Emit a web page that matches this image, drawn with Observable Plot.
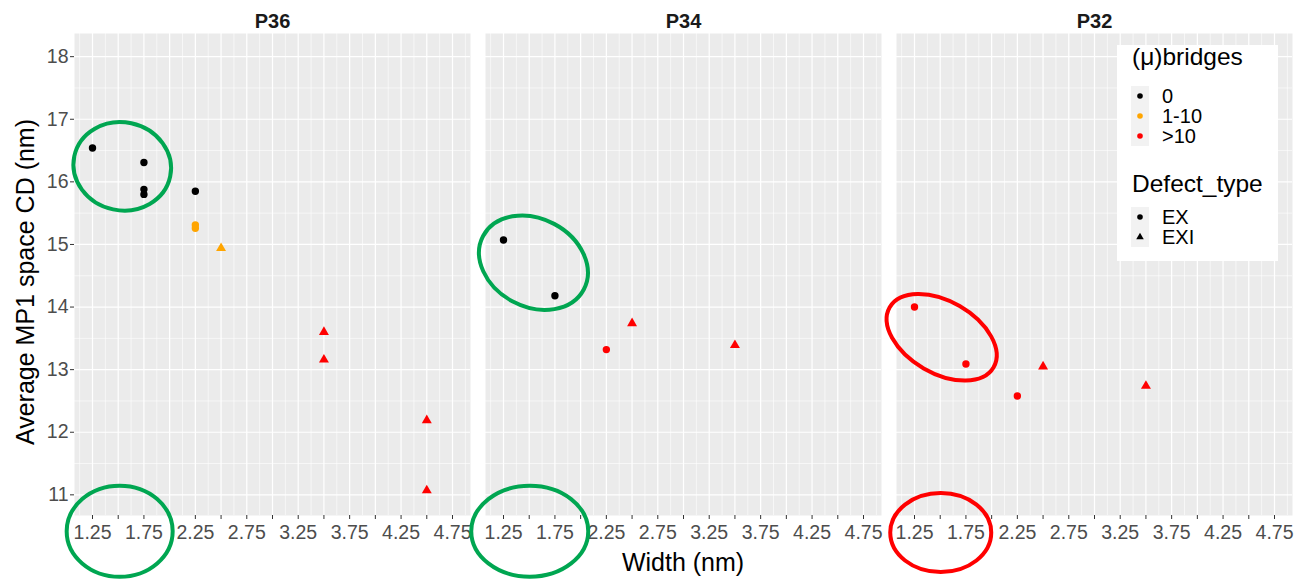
<!DOCTYPE html>
<html>
<head>
<meta charset="utf-8">
<script src="https://cdn.jsdelivr.net/npm/d3@7"></script>
<script src="https://cdn.jsdelivr.net/npm/@observablehq/plot@0.6"></script>
<style>
  body { margin: 0; background: #fff; }
  #chart { width: 1305px; height: 583px; }
</style>
</head>
<body>
<div id="chart"></div>
<script>
// Pitch panels, left to right
const panels = ["P36", "P34", "P32"];

// One entry per measured structure
const panel = [
  "P36", "P36", "P36", "P36", "P36", "P36", "P36", "P36", "P36", "P36", "P36", "P36",
  "P34", "P34", "P34", "P34", "P34",
  "P32", "P32", "P32", "P32", "P32"
];
const widthNm = [
  1.25, 1.75, 1.75, 1.75, 2.25, 2.25, 2.25, 2.5, 3.5, 3.5, 4.5, 4.5,
  1.25, 1.75, 2.25, 2.5, 3.5,
  1.25, 1.75, 2.25, 2.5, 3.5
];
const spaceCdNm = [
  16.54, 16.31, 15.88, 15.80, 15.85, 15.31, 15.26, 14.94, 13.60, 13.16, 12.19, 11.07,
  15.07, 14.18, 13.32, 13.74, 13.39,
  14.00, 13.09, 12.58, 13.05, 12.74
];
const bridges = [
  "0", "0", "0", "0", "0", "1-10", "1-10", "1-10", ">10", ">10", ">10", ">10",
  "0", "0", ">10", ">10", ">10",
  ">10", ">10", ">10", ">10", ">10"
];
const defectType = [
  "EX", "EX", "EX", "EX", "EX", "EX", "EX", "EXI", "EXI", "EXI", "EXI", "EXI",
  "EX", "EX", "EX", "EXI", "EXI",
  "EX", "EX", "EX", "EXI", "EXI"
];

// Legend categories
const bridgeLevels = ["0", "1-10", ">10"];
const bridgeColors = ["#000000", "#FFA500", "#FF0000"];
const defectLevels = ["EX", "EXI"];
const defectSymbols = ["circle", "triangle"];

// Axis ticks and grid lines
const yMajor = [11, 12, 13, 14, 15, 16, 17, 18];
const yMinor = [11.5, 12.5, 13.5, 14.5, 15.5, 16.5, 17.5];
const xMajor = [1.25, 1.5, 1.75, 2, 2.25, 2.5, 2.75, 3, 3.25, 3.5, 3.75, 4, 4.25, 4.5, 4.75];
const xMinor = [1.125, 1.375, 1.625, 1.875, 2.125, 2.375, 2.625, 2.875, 3.125, 3.375, 3.625, 3.875, 4.125, 4.375, 4.625, 4.875];
const xLabelled = [1.25, 1.75, 2.25, 2.75, 3.25, 3.75, 4.25, 4.75];

// Highlight rings around groups of points (centre in data units)
const ringPanel = ["P36", "P36", "P34", "P34", "P32", "P32"];
const ringX = [1.544, 1.519, 1.546, 1.51, 1.519, 1.51];
const ringY = [16.24, 10.41, 14.70, 10.41, 13.51, 10.39];
const ringRx = [49, 53, 57, 58.5, 60, 50.5];
const ringRy = [44, 45.5, 44, 45.5, 36, 39.5];
const ringTilt = [12, 0, 28, 0, 30, 0];
const ringColor = ["#00A651", "#00A651", "#00A651", "#00A651", "#FF0000", "#FF0000"];

const rows = widthNm.map((w, i) => ({
  panel: panel[i], width: w, cd: spaceCdNm[i], bridges: bridges[i], defect: defectType[i]
}));

const font = "'Liberation Sans', Arial, Helvetica, sans-serif";
const W = 1305, H = 583, mL = 74, mR = 13, mT = 33, mB = 68;
const gap = 15;
const step = (W - mL - mR + gap) / panels.length;

const chart = Plot.plot({
  width: W,
  height: H,
  marginLeft: mL,
  marginRight: mR,
  marginTop: mT,
  marginBottom: mB,
  style: { fontFamily: font, fontSize: "19.5px", background: "#fff", overflow: "visible" },
  fx: { domain: panels, paddingInner: gap / step, paddingOuter: 0, label: null },
  x: { domain: [1.075, 4.925] },
  y: { domain: [10.67, 18.37] },
  color: { domain: bridgeLevels, range: bridgeColors },
  symbol: { domain: defectLevels, range: defectSymbols },
  marks: [
    Plot.frame({ fill: "#EBEBEB", stroke: null }),
    Plot.gridY(yMinor, { stroke: "#fff", strokeOpacity: 1, strokeWidth: 0.6 }),
    Plot.gridX(xMinor, { stroke: "#fff", strokeOpacity: 1, strokeWidth: 0.6 }),
    Plot.gridY(yMajor, { stroke: "#fff", strokeOpacity: 1, strokeWidth: 1.2 }),
    Plot.gridX(xMajor, { stroke: "#fff", strokeOpacity: 1, strokeWidth: 1.2 }),
    Plot.axisY(yMajor, {
      tickSize: 4, tickPadding: 2, fontSize: 19.5,
      stroke: "#333", fill: "#4D4D4D", label: null,
      tickFormat: d => String(d)
    }),
    Plot.axisX(xMajor, {
      tickSize: 4, tickPadding: 6, fontSize: 19.5,
      stroke: "#333", fill: "#4D4D4D", label: null,
      tickFormat: d => xLabelled.includes(d) ? d.toFixed(2) : ""
    }),
    Plot.axisFx({
      anchor: "top", tickSize: 0, tickPadding: 6, fontSize: 20,
      fontWeight: "bold", fill: "#1A1A1A", label: null
    }),
    Plot.dot(rows, {
      fx: "panel", x: "width", y: "cd",
      fill: "bridges", symbol: "defect", r: 3.7, stroke: null
    })
  ]
});

document.getElementById("chart").appendChild(chart);

const svg = d3.select(chart);
const fxScale = chart.scale("fx");
const xScale = chart.scale("x");
const yScale = chart.scale("y");
const x0 = Math.min(...xScale.range);

// Highlight rings, placed through the chart's own scales
const rings = svg.append("g").attr("fill", "none").attr("stroke-width", 4);
ringX.forEach((cx, i) => {
  const px = fxScale.apply(ringPanel[i]) + xScale.apply(cx) - x0;
  const py = yScale.apply(ringY[i]);
  rings.append("ellipse")
    .attr("cx", 0).attr("cy", 0)
    .attr("rx", ringRx[i]).attr("ry", ringRy[i])
    .attr("transform", `translate(${px},${py}) rotate(${ringTilt[i]})`)
    .attr("stroke", ringColor[i]);
});

// Axis titles
svg.append("text")
  .attr("x", (mL + W - mR) / 2).attr("y", 571)
  .attr("text-anchor", "middle")
  .attr("font-family", font).attr("font-size", 25).attr("fill", "#000")
  .text("Width (nm)");
svg.append("text")
  .attr("transform", `translate(34,${(mT + H - mB) / 2 + 8}) rotate(-90)`)
  .attr("text-anchor", "middle")
  .attr("font-family", font).attr("font-size", 25).attr("fill", "#000")
  .text("Average MP1 space CD (nm)");

// Legend inside the last panel
const lg = svg.append("g").attr("font-family", font).attr("fill", "#000").attr("text-anchor", "start");
lg.append("rect").attr("x", 1117).attr("y", 45).attr("width", 161).attr("height", 216).attr("fill", "#fff");
lg.append("text").attr("x", 1132).attr("y", 65).attr("font-size", 24.5).text("(\u03bc)bridges");
lg.append("rect").attr("x", 1131).attr("y", 86).attr("width", 18).attr("height", 60).attr("fill", "#F2F2F2");
bridgeLevels.forEach((lev, i) => {
  const cy = 96 + i * 20;
  lg.append("circle").attr("cx", 1140).attr("cy", cy).attr("r", 2.8).attr("fill", bridgeColors[i]);
  lg.append("text").attr("x", 1162).attr("y", cy + 7).attr("font-size", 20).text(lev);
});
lg.append("text").attr("x", 1132).attr("y", 192).attr("font-size", 24.5).text("Defect_type");
lg.append("rect").attr("x", 1131).attr("y", 207).attr("width", 18).attr("height", 40).attr("fill", "#F2F2F2");
defectLevels.forEach((lev, i) => {
  const cy = 217 + i * 20;
  const sym = d3.symbol(i === 0 ? d3.symbolCircle : d3.symbolTriangle, Math.PI * 2.8 * 2.8);
  lg.append("path").attr("d", sym()).attr("transform", `translate(1140,${cy})`).attr("fill", "#000");
  lg.append("text").attr("x", 1162).attr("y", cy + 7).attr("font-size", 20).text(lev);
});
</script>
</body>
</html>
